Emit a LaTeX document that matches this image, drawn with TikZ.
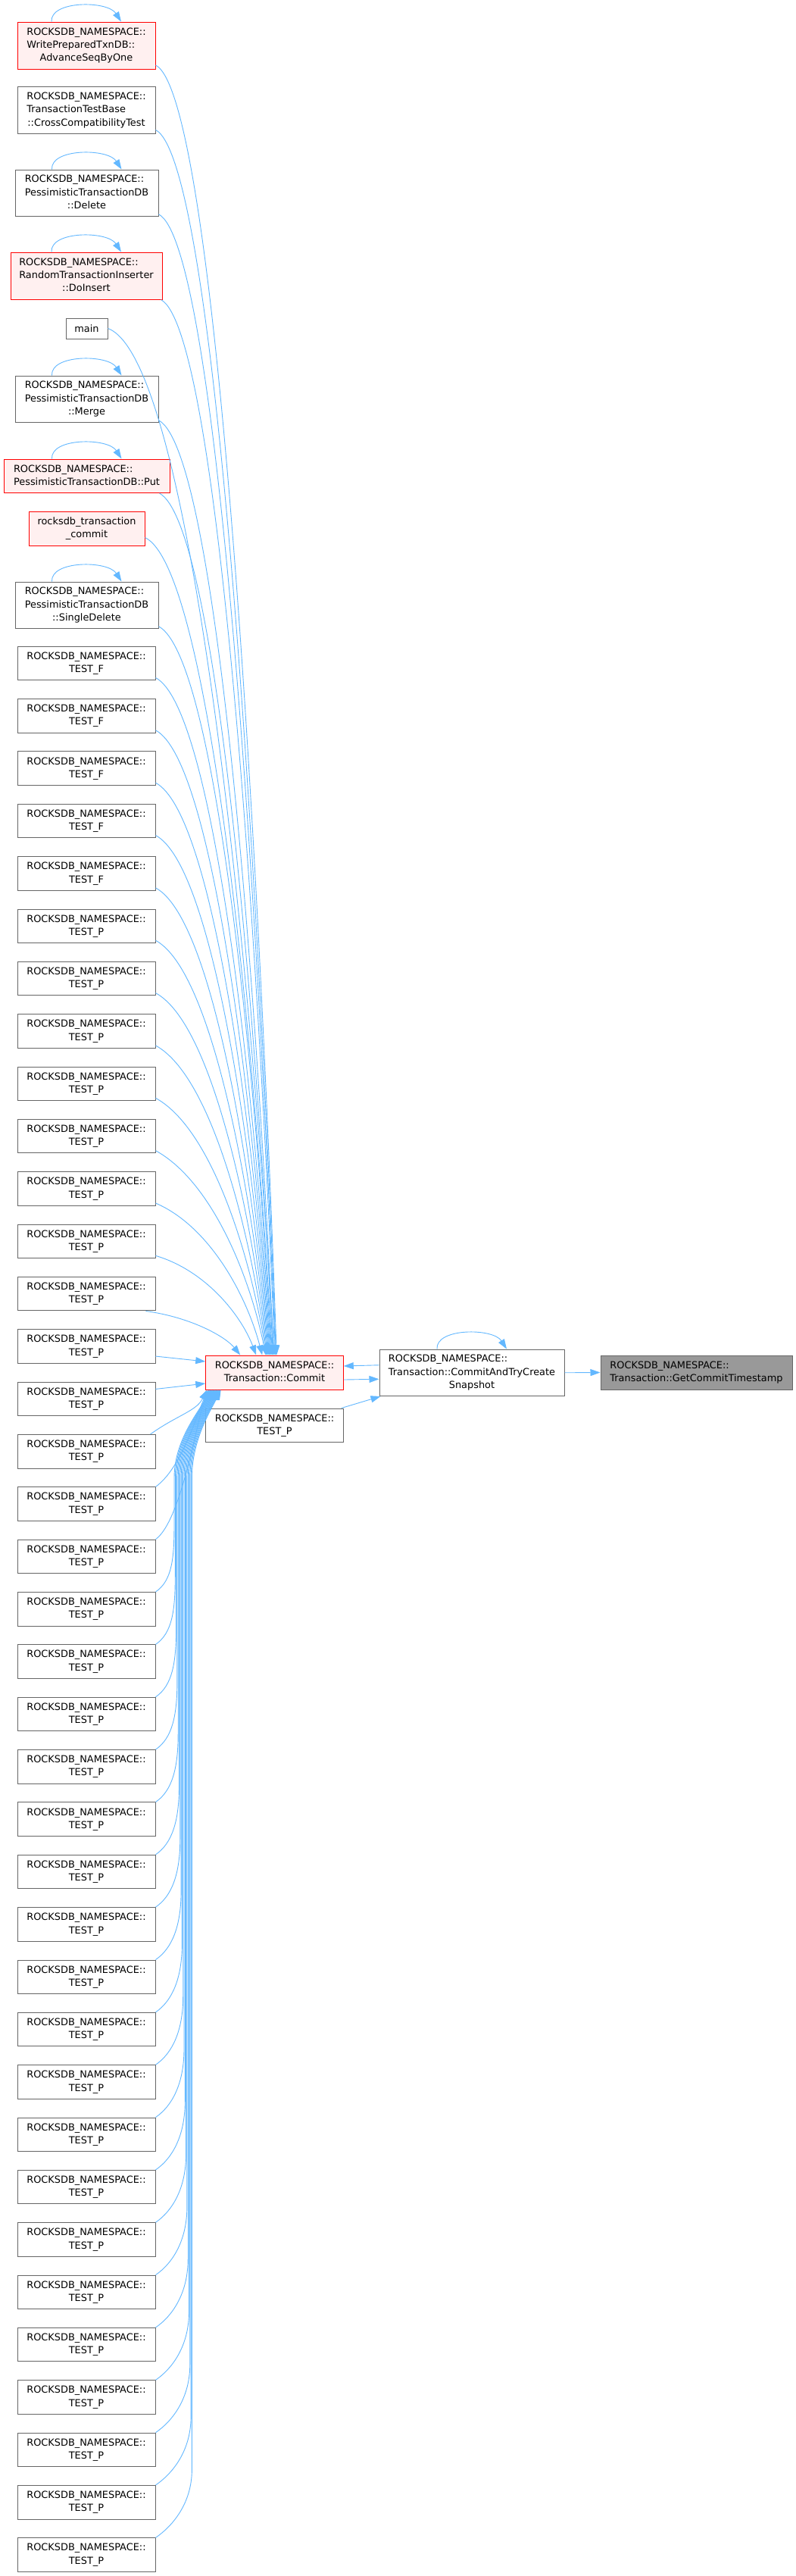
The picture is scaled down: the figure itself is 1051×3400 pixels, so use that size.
\documentclass[tikz,border=0pt]{standalone}
\usepackage{fontspec}
\setmainfont{DejaVu Sans}
\usetikzlibrary{arrows.meta,calc}
\definecolor{edgeblue}{HTML}{63B8FF}
\definecolor{boxgray}{HTML}{666666}
\definecolor{boxred}{HTML}{FF0000}
\definecolor{boxpink}{HTML}{FFF0F0}
\definecolor{maingray}{HTML}{999999}
\newcommand\twol[2]{\begin{tabular}{@{}l@{}}#1\\\multicolumn{1}{@{}c@{}}{#2}\end{tabular}}
\newcommand\threel[3]{\begin{tabular}{@{}l@{}}#1\\#2\\\multicolumn{1}{@{}c@{}}{#3}\end{tabular}}
\tikzset{
  box/.style={draw=boxgray, fill=white, line width=1pt, inner sep=0pt, anchor=center,
    font=\fontsize{12.9}{17.3}\selectfont},
  redbox/.style={box, draw=boxred, fill=boxpink},
  mainbox/.style={box, draw=boxgray, fill=maingray},
  edge/.style={draw=edgeblue, line width=0.9pt, -{Triangle[length=13pt,width=9pt]}},
}
% top edges into Commit (north side)
\newcommand\tedge[2]{\draw[edge] let \p1=(#1), \p2=([xshift=#2pt]commit.north west),
  \n1={\x2-\x1}, \n2={\y1-\y2} in
  (\p1) .. controls ({\x1+0.5*\n1},{\y1-min(0.15*\n2,40pt)}) and ({\x2-0.15*\n1},{\y2+0.4*\n2}) .. (\p2);}
% short bottom edges into Commit (south side)
\newcommand\dedge[2]{\draw[edge] let \p1=(#1), \p2=([xshift=#2pt]commit.south west) in
  (\p1) .. controls ({\x1+35pt},{\y1+25pt}) and ({\x2-14pt},{\y2-28pt}) .. (\p2);}
% long bottom edges into Commit (south side)
\newcommand\bedge[3]{\draw[edge] let \p1=(#1.north east), \p2=([xshift=#3pt]commit.south west) in
  (\p1) .. controls ({\x1+22pt},{\y1+15pt}) and ({#2pt},{\y1+45pt}) .. ({#2pt},{\y1+90pt})
  -- ({#2pt},{\y2-116pt}) .. controls ({#2pt},{\y2-66pt}) and ({\x2-14pt},{\y2-28pt}) .. (\p2);}
\newcommand\selfloop[1]{\draw[edge] ([xshift=-46pt]#1.north) .. controls ([xshift=-48pt,yshift=28pt]#1.north)
  and ([xshift=28pt,yshift=28pt]#1.north) .. ([xshift=46pt]#1.north);}
\begin{document}
\begin{tikzpicture}[x=1pt,y=-1pt]
\fill[white] (0,0) rectangle (1051,3400);
\useasboundingbox (0,0) rectangle (1051,3400);

% left column
\node[redbox, minimum width=182pt, minimum height=62pt] (n1) at (114,60) {\threel{ROCKSDB\_NAMESPACE::}{WritePreparedTxnDB::}{AdvanceSeqByOne}};
\node[box, minimum width=182pt, minimum height=61.5pt] (n2) at (114,145.5) {\threel{ROCKSDB\_NAMESPACE::}{TransactionTestBase}{::CrossCompatibilityTest}};
\node[box, minimum width=189pt, minimum height=61.5pt] (n3) at (114.5,254.75) {\threel{ROCKSDB\_NAMESPACE::}{PessimisticTransactionDB}{::Delete}};
\node[redbox, minimum width=200pt, minimum height=62pt] (n4) at (114,364) {\threel{ROCKSDB\_NAMESPACE::}{RandomTransactionInserter}{::DoInsert}};
\node[box, minimum width=55pt, minimum height=27pt] (n5) at (114.5,433.5) {main};
\node[box, minimum width=189pt, minimum height=61.5pt] (n6) at (114.5,526.75) {\threel{ROCKSDB\_NAMESPACE::}{PessimisticTransactionDB}{::Merge}};
\node[redbox, minimum width=219pt, minimum height=44.5pt] (n7) at (114.5,628.25) {\twol{ROCKSDB\_NAMESPACE::}{PessimisticTransactionDB::Put}};
\node[redbox, minimum width=153pt, minimum height=45pt] (n8) at (114.5,697.5) {\twol{rocksdb\_transaction}{\_commit}};
\node[box, minimum width=189pt, minimum height=61.5pt] (n9) at (114.5,798.75) {\threel{ROCKSDB\_NAMESPACE::}{PessimisticTransactionDB}{::SingleDelete}};
\foreach \k in {0,...,4}
  \node[box, minimum width=182pt, minimum height=44.5pt] (tf\k) at (114,{875.5+69.35*\k}) {\twol{ROCKSDB\_NAMESPACE::}{TEST\_F}};
\foreach \k in {0,...,31}
  \node[box, minimum width=182pt, minimum height=44.5pt] (tp\k) at (114,{1222.25+69.35*\k}) {\twol{ROCKSDB\_NAMESPACE::}{TEST\_P}};

% middle / right
\node[redbox, minimum width=181.5pt, minimum height=45pt] (commit) at (362.5,1811.5) {\twol{ROCKSDB\_NAMESPACE::}{Transaction::Commit}};
\node[box, minimum width=181.5pt, minimum height=44.5pt] (tpm) at (362.5,1881.25) {\twol{ROCKSDB\_NAMESPACE::}{TEST\_P}};
\node[box, minimum width=244pt, minimum height=61.5pt] (cat) at (623,1811.75) {\threel{ROCKSDB\_NAMESPACE::}{Transaction::CommitAndTryCreate}{Snapshot}};
\node[mainbox, minimum width=253pt, minimum height=45pt] (gct) at (919.5,1811.5) {\twol{ROCKSDB\_NAMESPACE::}{Transaction::GetCommitTimestamp}};

% self loops
\selfloop{n1}
\selfloop{n3}
\selfloop{n4}
\selfloop{n6}
\selfloop{n7}
\selfloop{n9}
\selfloop{cat}

% edges into Commit from above
\tedge{[yshift=-26pt]n1.east}{94}
\tedge{[yshift=-26pt]n2.east}{93.2}
\tedge{[yshift=-28pt]n3.east}{92.4}
\tedge{[xshift=-2pt]n4.south east}{91.6}
\tedge{n5.east}{90.8}
\tedge{[yshift=-28pt]n6.east}{90}
\tedge{[xshift=-14pt]n7.south east}{89.2}
\tedge{[yshift=-12pt]n8.east}{88.4}
\tedge{[yshift=-28pt]n9.east}{87.6}
\foreach \k in {0,...,4}{\pgfmathsetmacro\tend{86.8-0.8*\k}\tedge{[yshift=-19pt]tf\k.east}{\tend}}
\foreach \k in {0,...,4}{\pgfmathsetmacro\tend{82.8-0.8*\k}\tedge{[yshift=-19pt]tp\k.east}{\tend}}
\tedge{[yshift=-19pt]tp5.east}{75}
\tedge{[yshift=-19pt]tp6.east}{67}
\tedge{[xshift=-13pt]tp7.south east}{46}

% edges into Commit from the side and below
\draw[edge] ([yshift=-13pt]tp8.east) -- ([yshift=14.5pt]commit.west);
\draw[edge] ([yshift=13pt]tp9.east) -- ([yshift=-14.5pt]commit.west);
\dedge{[xshift=-7pt]tp10.north east}{2}
\dedge{tp11.north east}{4}
\dedge{tp12.north east}{5}
\foreach \m in {13,...,31}{\pgfmathsetmacro\bwx{230+(\m-13)*1.3}\pgfmathsetmacro\bxe{6+(\m-13)*0.8}\bedge{tp\m}{\bwx}{\bxe}}

% right part
\draw[edge] ([yshift=-9.5pt]commit.east) -- ([yshift=-8.5pt]cat.west);
\draw[edge] ([yshift=10pt]cat.west) -- ([yshift=8.5pt]commit.east);
\draw[edge] ([xshift=-3pt]tpm.north east) -- ([xshift=2pt]cat.south west);
\draw[edge] (cat.east) -- (gct.west);
\end{tikzpicture}
\end{document}
